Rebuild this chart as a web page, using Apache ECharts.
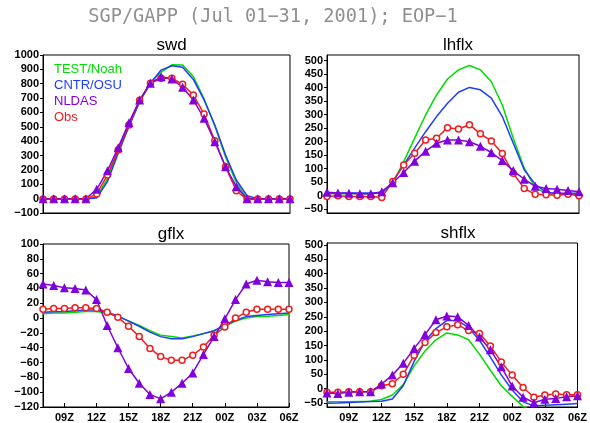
<!DOCTYPE html>
<html><head><meta charset="utf-8">
<script src="https://cdn.jsdelivr.net/npm/echarts@6/dist/echarts.min.js"></script>
<style>html,body{margin:0;padding:0;background:#fff}#c{width:590px;height:423px}</style>
</head><body><div id="c"></div>
<script>
// ---- data ----
const hours = ['07Z','08Z','09Z','10Z','11Z','12Z','13Z','14Z','15Z','16Z','17Z','18Z','19Z','20Z','21Z','22Z','23Z','00Z','01Z','02Z','03Z','04Z','05Z','06Z'];
const seriesNames = ['TEST/Noah','CNTR/OSU','NLDAS','Obs'];

const swdNoah  = [0,0,0,0,0,10,140,330,510,680,810,880,932,930,850,695,505,290,110,0,0,0,0,0];
const swdOsu   = [0,0,0,0,0,5,118,316,501,675,803,895,925,915,830,687,513,304,130,20,0,0,0,0];
const swdNldas = [0,0,0,0,0,65,194,355,529,687,803,849,833,775,687,559,396,222,83,0,0,0,0,0];
const swdObs   = [-3,-3,-3,-3,-3,32,165,339,513,685,803,838,838,796,722,589,403,222,55,-5,-3,-3,-3,-3];

const lhNoah  = [7,7,7,7,7,10,46,126,213,299,373,432,466,482,466,422,336,213,102,30,8,6,5,5];
const lhOsu   = [10,10,10,10,10,9,52,114,176,237,293,342,383,401,392,361,293,194,96,43,12,9,9,9];
const lhNldas = [13,10,9,7,7,15,48,86,128,165,194,206,206,200,183,160,130,93,61,35,27,24,19,15];
const lhObs   = [-3,0,-3,-3,-3,-7,53,114,157,206,213,252,247,263,229,203,156,83,27,5,4,2,5,0];

const gNoah  = [6,7,7,8,9,9,7,2,-4,-10,-17,-23,-25,-27,-24,-21,-17,-11,-4,0,2,2.5,3.5,5];
const gOsu   = [8,8.5,9,10,11,11,8,3,-4,-11,-19,-25,-28,-28,-25,-21,-17,-10,-3,2,3.5,5,6,7];
const gNldas = [46,44,41,40,38,25,-10,-40,-68,-88,-103,-109,-100,-88,-74,-49,-25,-1,25,46,51,49,48,48];
const gObs   = [12,13,13,14,14,13,8,1,-11,-25,-41,-52,-57,-57,-50,-39,-23,-12,0,8,12,12,12,12];

const shNoah  = [-46,-46,-46,-45,-44,-38,-22,14,79,131,170,194,187,170,120,64,10,-27,-62,-80,-85,-85,-85,-85];
const shOsu   = [-51,-50,-48,-47,-45,-44,-36,10,95,165,209,237,237,212,168,110,48,-5,-46,-60,-58,-56,-54,-52];
const shNldas = [-15,-17,-13,-11,-11,16,47,88,140,188,240,253,250,220,180,135,76,9,-30,-49,-37,-34,-28,-25];
const shObs   = [-13,-13,-11,-11,-11,10,17,50,116,161,195,215,222,202,192,148,93,47,4,-30,-22,-19,-21,-21];

const swdTicks = [-100,0,100,200,300,400,500,600,700,800,900,1000];
const lhTicks  = [-50,0,50,100,150,200,250,300,350,400,450,500];
const gTicks   = [-120,-100,-80,-60,-40,-20,0,20,40,60,80,100];
const shTicks  = [-50,0,50,100,150,200,250,300,350,400,450,500];

// ---- styles ----
const colors = {noah:'#00dc00', osu:'#1e3cff', nldas:'#8200dc', obs:'#f01e1e'};

const panels = [
  {name:'swd',   d:[swdNoah,swdOsu,swdNldas,swdObs], ticks:swdTicks, min:-100, max:1000,
   grid:{left:43, top:55, width:247, height:158}, bottom:false},
  {name:'lhflx', d:[lhNoah,lhOsu,lhNldas,lhObs], ticks:lhTicks, min:-64, max:521,
   grid:{left:327, top:55, width:252, height:158}, bottom:false},
  {name:'gflx',  d:[gNoah,gOsu,gNldas,gObs], ticks:gTicks, min:-120, max:100,
   grid:{left:43, top:244, width:246, height:164}, bottom:true},
  {name:'shflx', d:[shNoah,shOsu,shNldas,shObs], ticks:shTicks, min:-64, max:507,
   grid:{left:327, top:243, width:252, height:165}, bottom:true}
];

const fmt = v => v < 0 ? '\u2212' + Math.abs(v) : String(v);
const every3 = idx => idx % 3 === 2;

const option = {
  backgroundColor:'#fff',
  animation:false,
  title:[{text:'SGP/GAPP (Jul 01\u221231, 2001); EOP\u22121', left:268, top:3, textAlign:'center',
          textStyle:{fontFamily:'DejaVu Sans Mono', fontSize:18.6, fontWeight:'normal', color:'#8f8f8f'}}]
        .concat(panels.map(p => ({
          text:p.name, left:p.grid.left + p.grid.width/2, top:p.grid.top - 23, textAlign:'center',
          textStyle:{fontFamily:'Liberation Sans', fontSize:17, fontWeight:'normal', color:'#000'}
        }))),
  legend:{
    left:44, top:56, orient:'vertical', itemWidth:0, itemHeight:0, itemGap:0,
    selectedMode:false, icon:'none',
    textStyle:{fontFamily:'Liberation Sans', fontSize:13, lineHeight:16},
    data:[
      {name:seriesNames[0], textStyle:{color:colors.noah}},
      {name:seriesNames[1], textStyle:{color:colors.osu}},
      {name:seriesNames[2], textStyle:{color:colors.nldas}},
      {name:seriesNames[3], textStyle:{color:colors.obs}}
    ]
  },
  grid: panels.map(p => Object.assign({show:true, borderColor:'#000', borderWidth:1, backgroundColor:'#fff'}, p.grid)),
  xAxis: panels.map((p,i) => ({
    type:'category', gridIndex:i, data:hours, boundaryGap:false,
    axisLine:{show:true, onZero:false, lineStyle:{color:'#000', width:1}},
    axisTick:{show:p.bottom, inside:true, length:4, interval:every3, lineStyle:{color:'#000'}},
    axisLabel:{show:p.bottom, interval:every3, margin:5, color:'#000',
               fontFamily:'Liberation Sans', fontSize:11, fontWeight:'bold'},
    splitLine:{show:false}
  })),
  yAxis: panels.map((p,i) => ({
    type:'value', gridIndex:i, min:p.min, max:p.max,
    axisLine:{show:true, onZero:false, lineStyle:{color:'#000', width:1}},
    axisTick:{show:true, length:3, customValues:p.ticks, lineStyle:{color:'#000'}},
    axisLabel:{customValues:p.ticks, formatter:fmt, margin:4, color:'#000',
               fontFamily:'Liberation Sans', fontSize:11, fontWeight:'bold'},
    splitLine:{show:false}
  })),
  series: []
};

panels.forEach((p,i) => {
  option.series.push(
    {name:seriesNames[0], type:'line', xAxisIndex:i, yAxisIndex:i, data:p.d[0], showSymbol:false, symbol:'none',
     lineStyle:{color:colors.noah, width:1.5}, itemStyle:{color:colors.noah}},
    {name:seriesNames[1], type:'line', xAxisIndex:i, yAxisIndex:i, data:p.d[1], showSymbol:false, symbol:'none',
     lineStyle:{color:colors.osu, width:1.5}, itemStyle:{color:colors.osu}},
    {name:seriesNames[3], type:'line', xAxisIndex:i, yAxisIndex:i, data:p.d[3], symbol:'circle', symbolSize:6,
     showSymbol:true, showAllSymbol:true,
     lineStyle:{color:colors.obs, width:1.5}, itemStyle:{color:'#fff', borderColor:colors.obs, borderWidth:1.5}},
    {name:seriesNames[2], type:'line', xAxisIndex:i, yAxisIndex:i, data:p.d[2], symbol:'triangle', symbolSize:9,
     showSymbol:true, showAllSymbol:true,
     lineStyle:{color:colors.nldas, width:1.5}, itemStyle:{color:colors.nldas}}
  );
});

const chart = echarts.init(document.getElementById('c'), null, {renderer:'canvas'});
chart.setOption(option);
</script>
</body></html>
